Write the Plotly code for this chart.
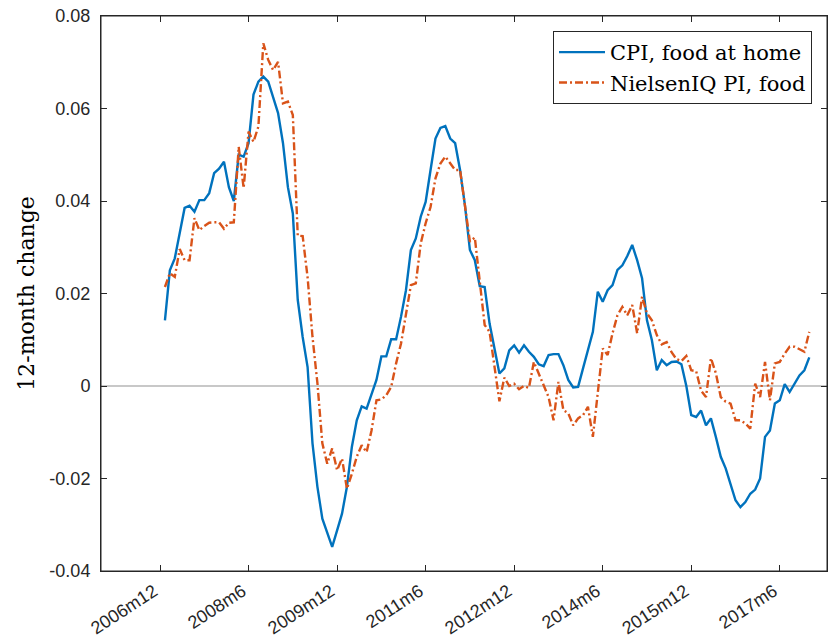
import pandas as pd
import plotly.graph_objects as go

start_month = "2007-01"
end_month = "2017-12"
base_month = "2006-12"

cpi_food_home = [
    0.0142, 0.0250, 0.0276, 0.0330, 0.0385, 0.0390, 0.0377, 0.0402, 0.0402, 0.0417,
    0.0460, 0.0470, 0.0485, 0.0430, 0.0400, 0.0500, 0.0496, 0.0525, 0.0630, 0.0658,
    0.0669, 0.0658, 0.0625, 0.0590, 0.0525, 0.0430, 0.0373, 0.0186, 0.0106, 0.0041,
    -0.0124, -0.0218, -0.0287, -0.0319, -0.0348, -0.0312, -0.0276, -0.0218, -0.0132, -0.0074,
    -0.0044, -0.0049, -0.0016, 0.0013, 0.0064, 0.0064, 0.0101, 0.0101, 0.0150, 0.0207,
    0.0294, 0.0319, 0.0366, 0.0398, 0.0467, 0.0535, 0.0558, 0.0562, 0.0535, 0.0525,
    0.0467, 0.0390, 0.0294, 0.0272, 0.0216, 0.0214, 0.0135, 0.0077, 0.0027, 0.0038,
    0.0077, 0.0088, 0.0072, 0.0088, 0.0074, 0.0063, 0.0047, 0.0043, 0.0067, 0.0069,
    0.0069, 0.0045, 0.0013, -0.0003, -0.0002, 0.0038, 0.0077, 0.0117, 0.0204, 0.0182,
    0.0207, 0.0218, 0.0251, 0.0261, 0.0281, 0.0305, 0.0272, 0.0233, 0.0142, 0.0099,
    0.0034, 0.0056, 0.0045, 0.0052, 0.0053, 0.0047, 0.0000, -0.0063, -0.0067, -0.0053,
    -0.0085, -0.0070, -0.0110, -0.0153, -0.0178, -0.0211, -0.0247, -0.0262, -0.0251, -0.0233,
    -0.0224, -0.0200, -0.0110, -0.0096, -0.0038, -0.0031, 0.0004, -0.0013, 0.0005, 0.0023,
    0.0034, 0.0062,
]

nielsen_food = [
    0.0214, 0.0244, 0.0236, 0.0296, 0.0272, 0.0272, 0.0363, 0.0337, 0.0346, 0.0353,
    0.0354, 0.0354, 0.0340, 0.0353, 0.0354, 0.0517, 0.0428, 0.0550, 0.0528, 0.0561,
    0.0741, 0.0705, 0.0683, 0.0701, 0.0611, 0.0615, 0.0586, 0.0325, 0.0324, 0.0235,
    0.0106, 0.0006, -0.0124, -0.0168, -0.0135, -0.0182, -0.0157, -0.0222, -0.0190, -0.0153,
    -0.0128, -0.0143, -0.0096, -0.0031, -0.0029, -0.0020, -0.0002, 0.0049, 0.0092, 0.0157,
    0.0218, 0.0222, 0.0308, 0.0352, 0.0387, 0.0449, 0.0481, 0.0496, 0.0481, 0.0467,
    0.0467, 0.0387, 0.0312, 0.0321, 0.0228, 0.0132, 0.0117, 0.0045, -0.0033, 0.0018,
    0.0000, 0.0005, -0.0007, 0.0000, -0.0004, 0.0052, 0.0027, 0.0002, -0.0024, -0.0074,
    0.0009, -0.0052, -0.0059, -0.0085, -0.0070, -0.0063, -0.0045, -0.0110, -0.0016, 0.0081,
    0.0067, 0.0114, 0.0153, 0.0171, 0.0153, 0.0175, 0.0114, 0.0193, 0.0157, 0.0142,
    0.0110, 0.0090, 0.0095, 0.0073, 0.0058, 0.0054, 0.0065, 0.0034, 0.0032, -0.0010,
    -0.0024, 0.0060, 0.0028, -0.0024, -0.0034, -0.0038, -0.0074, -0.0074, -0.0081, -0.0092,
    0.0005, -0.0024, 0.0052, -0.0031, 0.0049, 0.0052, 0.0070, 0.0085, 0.0085, 0.0080,
    0.0074, 0.0117,
]

tick_labels = ["2006m12", "2008m6", "2009m12", "2011m6", "2012m12", "2014m6", "2015m12", "2017m6"]
y_ticks = [-0.04, -0.02, 0, 0.02, 0.04, 0.06, 0.08]
y_tick_text = ["-0.04", "-0.02", "0", "0.02", "0.04", "0.06", "0.08"]

base = pd.Period(base_month, freq="M")
months = pd.period_range(start_month, end_month, freq="M")
x = [(m - base).n for m in months]


def label_to_index(lbl):
    yr, mo = lbl.split("m")
    return (pd.Period(year=int(yr), month=int(mo), freq="M") - base).n


tick_vals = [label_to_index(l) for l in tick_labels]

fig = go.Figure()
fig.add_trace(go.Scatter(
    x=x, y=cpi_food_home, mode="lines", name="CPI, food at home",
    line=dict(color="#0072BD", width=2.4),
))
fig.add_trace(go.Scatter(
    x=x, y=nielsen_food, mode="lines", name="NielsenIQ PI, food",
    line=dict(color="#D95319", width=2.4, dash="8px,3px,2px,3px"),
))

axis_color = "#262626"
fig.add_shape(type="rect", xref="paper", yref="paper", x0=0, x1=1, y0=0, y1=1,
              line=dict(color=axis_color, width=1), layer="above")

fig.update_layout(
    width=828, height=639,
    margin=dict(l=101, r=1, t=16, b=68, autoexpand=False),
    paper_bgcolor="white", plot_bgcolor="white",
    showlegend=True,
    legend=dict(
        x=0.6226, y=0.973, xanchor="left", yanchor="top",
        bgcolor="white", bordercolor=axis_color, borderwidth=1,
        font=dict(family="DejaVu Serif", size=21, color="#000000"),
        tracegroupgap=0, itemwidth=46,
    ),
    xaxis=dict(
        range=[-12, 135.6], tickvals=tick_vals, ticktext=tick_labels,
        tickangle=-33, ticks="inside", ticklen=6, tickcolor=axis_color,
        showline=True, linecolor=axis_color, linewidth=1, mirror="ticks",
        showgrid=False, zeroline=False, automargin=False,
        ticklabelstandoff=2, ticklabelshift=-6,
        tickfont=dict(family="Liberation Sans", size=18, color=axis_color),
    ),
    yaxis=dict(
        range=[-0.04, 0.08], tickvals=y_ticks, ticktext=y_tick_text,
        ticks="inside", ticklen=6, tickcolor=axis_color,
        showline=True, linecolor=axis_color, linewidth=1, mirror="ticks",
        showgrid=False, zeroline=True, zerolinecolor="#C8C8C8", zerolinewidth=1.5,
        automargin=False, ticklabelstandoff=6,
        tickfont=dict(family="Liberation Sans", size=18, color=axis_color),
        title=dict(text="12-month change", font=dict(family="DejaVu Serif", size=22, color="#000000"), standoff=8),
    ),
)

fig.write_html("out.html", post_script="document.body.style.margin='0';",
               config={"displayModeBar": False})
